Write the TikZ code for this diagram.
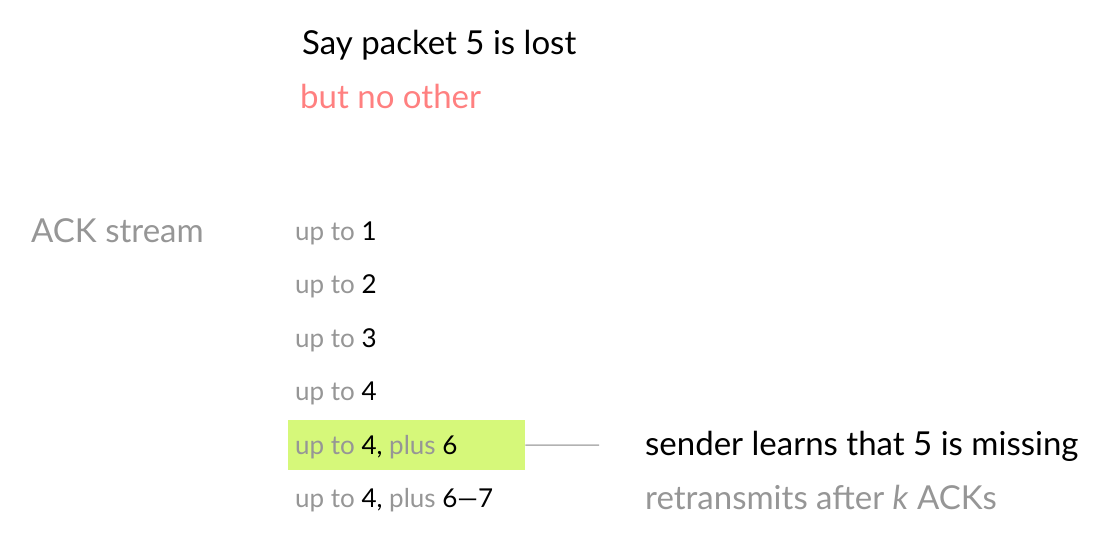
\documentclass[tikz,border=0pt]{standalone}
\usepackage{fontspec}
\setmainfont{Lato}
\usetikzlibrary{positioning}
\definecolor{ackgray}{RGB}{150,150,150}
\definecolor{lostred}{RGB}{255,128,128}
\definecolor{hlgreen}{RGB}{214,248,122}
\tikzset{
  headtxt/.style={anchor=base west, inner sep=0pt, font=\fontsize{33}{36}\selectfont},
  acktxt/.style={anchor=base west, inner sep=0pt, text=ackgray, font=\fontsize{26}{29}\selectfont},
}
\begin{document}
\begin{tikzpicture}[x=1pt, y=-1pt]
  \useasboundingbox (0,0) rectangle (1117,557);
  % title lines
  \node[headtxt] (say) at (302,54) {Say packet 5 is lost};
  \node[headtxt, text=lostred] (other) at (300,108) {but no other};
  \node[headtxt, text=ackgray] (stream) at (31,242) {ACK stream};
  % the cumulative ACKs
  \foreach \i in {1,...,4}
    \node[acktxt] (ack\i) at (295,{240+53.5*(\i-1)}) {up to \textcolor{black}{\i}};
  % highlight for the first duplicate ACK
  \node[fill=hlgreen, anchor=north west, inner sep=0pt,
        minimum width=237, minimum height=50] (hl) at (288,420) {};
  \node[acktxt] (ack5) at (295,454) {up to \textcolor{black}{4,} plus \textcolor{black}{6}};
  \node[acktxt] (ack6) at (295,507) {up to \textcolor{black}{4,} plus \textcolor{black}{6---7}};
  \coordinate (tip) at (599,445);
  \draw[black!30, line width=1.5] (hl.east) -- (tip);
  % what the sender does
  \node[headtxt] (learn) at (645,455) {sender learns that 5 is missing};
  \node[headtxt, text=ackgray] (retx) at (645,509) {retransmits after \textit{k} ACKs};
\end{tikzpicture}
\end{document}
